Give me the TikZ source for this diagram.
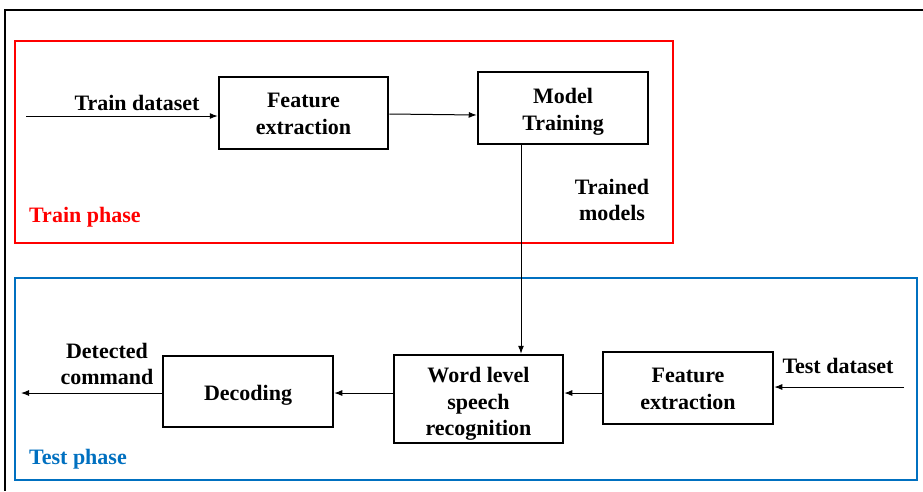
\documentclass[tikz,border=0pt]{standalone}
\usepackage{fontspec}
\setmainfont{Liberation Serif}
\usetikzlibrary{arrows.meta}
\definecolor{phred}{RGB}{255,0,0}
\definecolor{phblue}{RGB}{0,112,192}
\newcommand\boxtxt[2][3.5pt]{\raisebox{-#1}[\height][\depth]{\begin{tabular}{@{}c@{}}#2\end{tabular}}}
\begin{document}
\begin{tikzpicture}[x=1pt,y=-1pt,
  every node/.style={font=\fontsize{22}{26.5}\selectfont\bfseries, align=center, inner sep=0pt},
  blk/.style={draw=black, line width=2.5pt, minimum width=169pt, align=none},
  flow/.style={line width=1pt, -{Latex[length=8pt,width=6pt]}},
  phase/.style={line width=2.5pt}]
\useasboundingbox (0,0) rectangle (923,491);
\fill[white] (0,0) rectangle (923,491);
% outer frame
\draw[line width=2pt] (923,10) -- (4.5,10) -- (4.5,491);
% phase frames
\draw[phase, draw=phred] (15,41) rectangle (673,243);
\draw[phase, draw=phblue] (15,278) rectangle (917,480);
\node[text=phred, anchor=west] (trp) at (29,217) {Train phase};
\node[text=phblue, anchor=west] (tsp) at (29,459) {Test phase};
% train blocks
\node[blk, minimum height=72pt] (fe1) at (303.5,113) {\boxtxt[2.5pt]{Feature\\extraction}};
\node[blk, minimum height=72pt, minimum width=170pt] (mt) at (563,108) {\boxtxt{Model\\Training}};
\coordinate (src) at (26,116);
\node (td) at (137,103) {Train dataset};
\node (tmod) at (612,200) {Trained\\models};
% test blocks
\node[blk, minimum height=71pt, minimum width=170pt] (dec) at (248,391.5) {\boxtxt{Decoding}};
\node[blk, minimum height=88pt] (wl) at (478.5,399) {\boxtxt[5pt]{Word level\\speech\\recognition}};
\node[blk, minimum height=72pt, minimum width=170pt] (fe2) at (688,388) {\boxtxt[2.5pt]{Feature\\extraction}};
\coordinate (tsrc) at (904,387);
\coordinate (out) at (21,393);
\node (tsd) at (838,366) {Test dataset};
\node (dc) at (107,364) {Detected\\command};
\coordinate (vx) at (521,144);
% connectors
\draw[flow] (src) -- (src -| fe1.west);
\draw[flow] (fe1.east |- 0,114) -- (mt.west |- 0,115);
\draw[flow] (vx |- mt.south) -- (vx |- wl.north);
\draw[flow] (tsrc) -- (tsrc -| fe2.east);
\draw[flow] (fe2.west |- 0,393) -- (wl.east |- 0,393);
\draw[flow] (wl.west |- 0,393) -- (dec.east |- 0,393);
\draw[flow] (dec.west |- out) -- (out);
\end{tikzpicture}
\end{document}
